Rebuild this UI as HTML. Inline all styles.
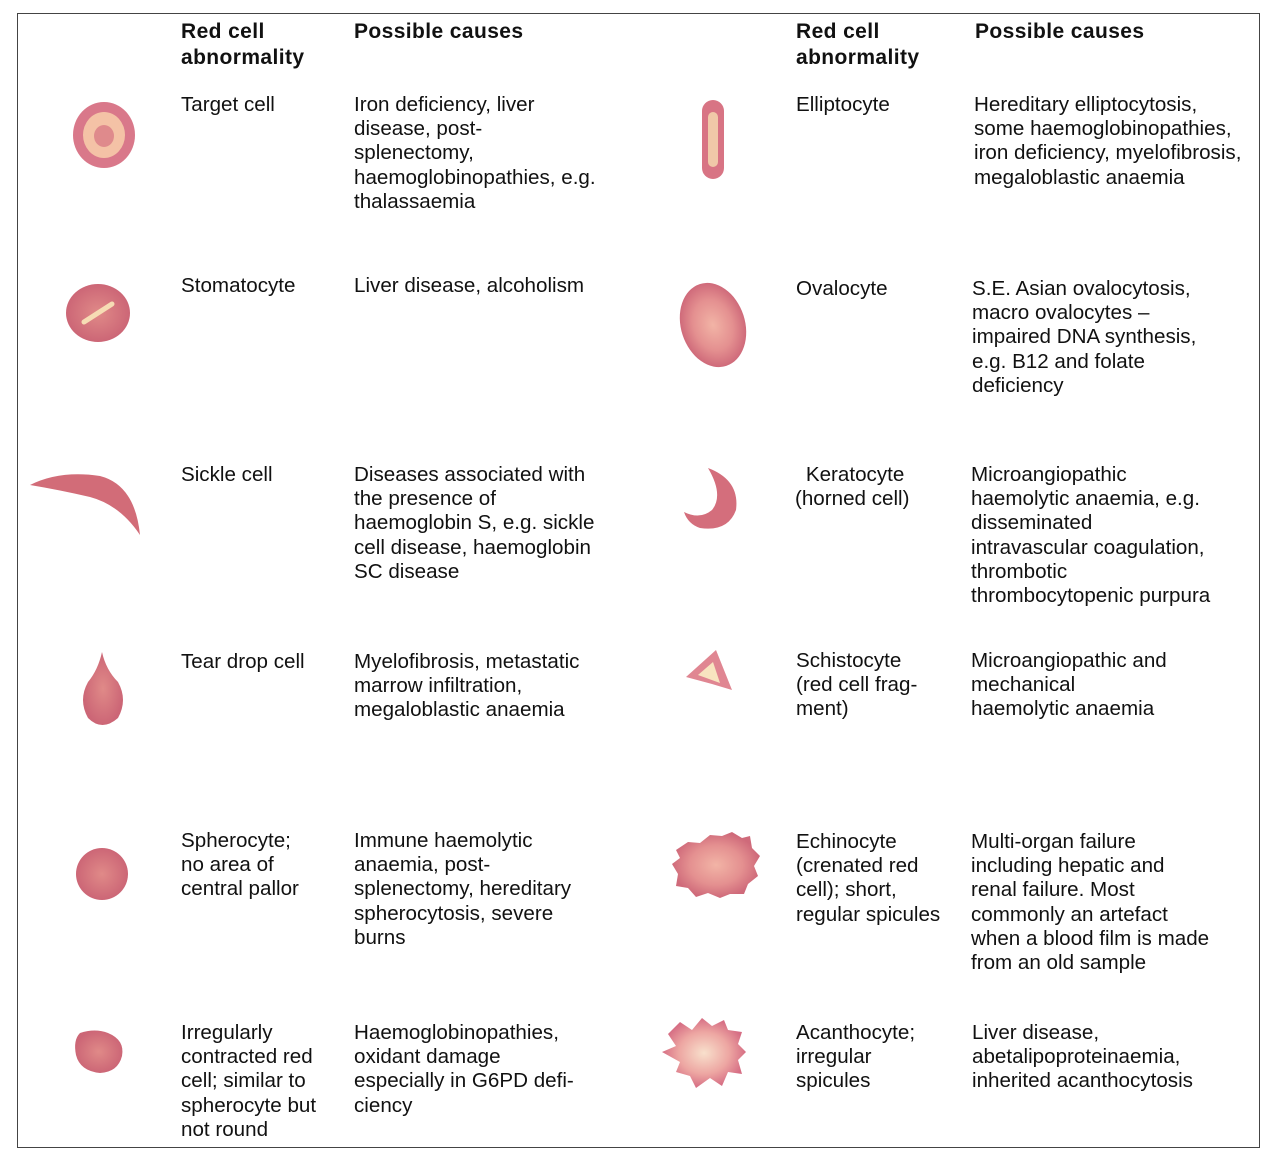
<!DOCTYPE html>
<html><head><meta charset="utf-8"><style>
body{margin:0;width:1269px;height:1152px;background:#fff;position:relative;overflow:hidden;font-family:"Liberation Sans",Arial,sans-serif;color:#111}
.frame{position:absolute;left:17px;top:13px;width:1243px;height:1135px;border:1.5px solid #444;box-sizing:border-box}
.t{position:absolute;font-size:20.6px;line-height:24.2px;white-space:nowrap}
.h{font-weight:bold;font-size:21px;line-height:26px;letter-spacing:0.4px}
svg{position:absolute;left:0;top:0}
</style></head><body>
<div class="frame"></div>
<svg width="1269" height="1152">
<defs>
<radialGradient id="g" cx="50%" cy="50%" r="50%"><stop offset="0" stop-color="#f2b4a6"/><stop offset="0.6" stop-color="#e49090"/><stop offset="1" stop-color="#cf6a7a"/></radialGradient>
<radialGradient id="gd" cx="50%" cy="50%" r="50%"><stop offset="0" stop-color="#e08a88"/><stop offset="1" stop-color="#cc6676"/></radialGradient>
<radialGradient id="gp" cx="50%" cy="50%" r="50%"><stop offset="0" stop-color="#f8e0cc"/><stop offset="0.6" stop-color="#eda6a2"/><stop offset="1" stop-color="#d66e84"/></radialGradient>
</defs>
<g>
<ellipse cx="104" cy="135" rx="31" ry="33" fill="#d9788a"/>
<ellipse cx="104" cy="135" rx="21" ry="23" fill="#f4c2a6"/>
<ellipse cx="104" cy="136" rx="10" ry="11" fill="#df8a8c"/>
</g>
<g>
<ellipse cx="98" cy="313" rx="32" ry="29" fill="url(#gd)"/>
<line x1="84" y1="322" x2="112" y2="304" stroke="#f6dcb4" stroke-width="5" stroke-linecap="round"/>
</g>
<path d="M30 485 Q60 470 100 476 Q135 485 140 535 Q120 505 90 497 Q60 490 30 485Z" fill="#d26c78"/>
<path d="M102 652 Q106 670 118 682 Q128 700 118 718 Q102 732 88 718 Q78 700 88 682 Q98 670 102 652Z" fill="url(#gd)"/>
<circle cx="102" cy="874" r="26" fill="url(#gd)"/>
<path d="M80 1033 Q95 1028 108 1033 Q125 1040 122 1056 Q118 1072 100 1073 Q80 1071 76 1055 Q73 1040 80 1033Z" fill="url(#gd)"/>
<g>
<rect x="702" y="100" width="22" height="79" rx="11" fill="#d87484"/>
<rect x="708" y="112" width="10" height="55" rx="5" fill="#f0c8a8"/>
</g>
<ellipse cx="713" cy="325" rx="32" ry="43" transform="rotate(-18 713 325)" fill="url(#g)"/>
<path d="M708 468 Q740 480 736 510 Q728 532 700 528 Q688 524 684 512 Q700 520 712 510 Q724 495 708 468Z" fill="#d46e7c"/>
<g>
<path d="M686 677 L716 650 L732 690 L712 684 Z" fill="#e08692"/>
<path d="M698 675 L713 662 L720 683 Z" fill="#f8e4c0"/>
</g>
<path d="M676 850 L688 842 L700 843 L710 835 L722 836 L732 832 L742 838 L750 836 L752 848 L760 856 L754 866 L758 876 L748 884 L744 894 L730 894 L720 898 L708 893 L696 897 L688 888 L676 886 L678 874 L672 864 L680 858 Z" fill="url(#g)"/>
<path d="M680 1022 L692 1030 L702 1018 L712 1026 L724 1020 L728 1030 L742 1032 L738 1044 L746 1052 L738 1060 L742 1074 L728 1072 L722 1086 L710 1078 L696 1088 L690 1076 L676 1072 L680 1062 L662 1052 L676 1046 L668 1034 Z" fill="url(#gp)"/>
</svg>

<div class="t h" style="left:181px;top:19px">Red cell<br>abnormality</div>
<div class="t h" style="left:354px;top:19px">Possible causes</div>
<div class="t h" style="left:796px;top:19px">Red cell<br>abnormality</div>
<div class="t h" style="left:975px;top:19px">Possible causes</div>

<div class="t" style="left:181px;top:93px">Target cell</div>
<div class="t" style="left:354px;top:93px">Iron deficiency, liver<br>disease, post-<br>splenectomy,<br>haemoglobinopathies, e.g.<br>thalassaemia</div>
<div class="t" style="left:181px;top:274px">Stomatocyte</div>
<div class="t" style="left:354px;top:274px">Liver disease, alcoholism</div>
<div class="t" style="left:181px;top:463px">Sickle cell</div>
<div class="t" style="left:354px;top:463px">Diseases associated with<br>the presence of<br>haemoglobin S, e.g. sickle<br>cell disease, haemoglobin<br>SC disease</div>
<div class="t" style="left:181px;top:650px">Tear drop cell</div>
<div class="t" style="left:354px;top:650px">Myelofibrosis, metastatic<br>marrow infiltration,<br>megaloblastic anaemia</div>
<div class="t" style="left:181px;top:829px">Spherocyte;<br>no area of<br>central pallor</div>
<div class="t" style="left:354px;top:829px">Immune haemolytic<br>anaemia, post-<br>splenectomy, hereditary<br>spherocytosis, severe<br>burns</div>
<div class="t" style="left:181px;top:1021px">Irregularly<br>contracted red<br>cell; similar to<br>spherocyte but<br>not round</div>
<div class="t" style="left:354px;top:1021px">Haemoglobinopathies,<br>oxidant damage<br>especially in G6PD defi-<br>ciency</div>

<div class="t" style="left:796px;top:93px">Elliptocyte</div>
<div class="t" style="left:974px;top:93px">Hereditary elliptocytosis,<br>some haemoglobinopathies,<br>iron deficiency, myelofibrosis,<br>megaloblastic anaemia</div>
<div class="t" style="left:796px;top:277px">Ovalocyte</div>
<div class="t" style="left:972px;top:277px">S.E. Asian ovalocytosis,<br>macro ovalocytes –<br>impaired DNA synthesis,<br>e.g. B12 and folate<br>deficiency</div>
<div class="t" style="left:795px;top:463px;text-align:center">&nbsp;Keratocyte<br>(horned cell)</div>
<div class="t" style="left:971px;top:463px">Microangiopathic<br>haemolytic anaemia, e.g.<br>disseminated<br>intravascular coagulation,<br>thrombotic<br>thrombocytopenic purpura</div>
<div class="t" style="left:796px;top:649px">Schistocyte<br>(red cell frag-<br>ment)</div>
<div class="t" style="left:971px;top:649px">Microangiopathic and<br>mechanical<br>haemolytic anaemia</div>
<div class="t" style="left:796px;top:830px">Echinocyte<br>(crenated red<br>cell); short,<br>regular spicules</div>
<div class="t" style="left:971px;top:830px">Multi-organ failure<br>including hepatic and<br>renal failure. Most<br>commonly an artefact<br>when a blood film is made<br>from an old sample</div>
<div class="t" style="left:796px;top:1021px">Acanthocyte;<br>irregular<br>spicules</div>
<div class="t" style="left:972px;top:1021px">Liver disease,<br>abetalipoproteinaemia,<br>inherited acanthocytosis</div>
</body></html>
